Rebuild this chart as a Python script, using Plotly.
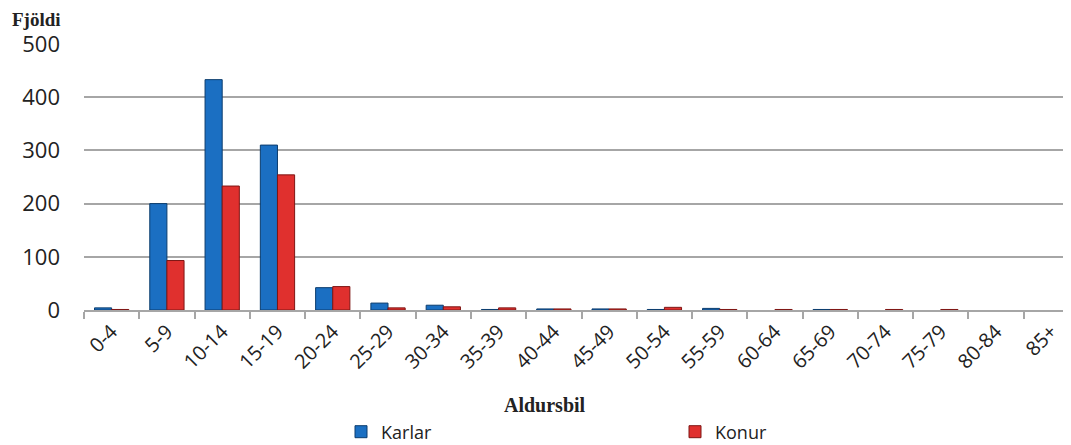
import plotly.graph_objects as go

categories = ["0-4", "5-9", "10-14", "15-19", "20-24", "25-29", "30-34", "35-39", "40-44",
              "45-49", "50-54", "55-59", "60-64", "65-69", "70-74", "75-79", "80-84", "85+"]
karlar = [4, 200, 433, 310, 42, 13, 9, 1, 2, 2, 1, 3, 0, 1, 0, 0, 0, 0]
konur = [1, 93, 233, 254, 44, 4, 6, 4, 2, 2, 5, 1, 1, 1, 1, 1, 0, 0]
y_ticks = [0, 100, 200, 300, 400, 500]

# page body adds an 8px offset; layout is expressed in screen pixels
OFF = 8
W, H = 1071, 445
L, T = 84 - OFF, 44 - OFF
B = H - (310 - OFF)
R = 0
pw = W - L - R
ph = H - T - B

def px(sx):
    return (sx - OFF - L) / pw

def py(sy):
    return (H - B - (sy - OFF)) / ph

fig = go.Figure()
fig.add_trace(go.Bar(name="Karlar", x=categories, y=karlar,
                     marker=dict(color="#1B6FC2",
                                 line=dict(color="#0C3D6E", width=[1 if v else 0 for v in karlar]))))
fig.add_trace(go.Bar(name="Konur", x=categories, y=konur,
                     marker=dict(color="#E0302E",
                                 line=dict(color="#7E1614", width=[1 if v else 0 for v in konur]))))

fig.update_layout(
    width=W, height=H,
    margin=dict(l=L, r=R, t=T, b=B, autoexpand=False),
    plot_bgcolor="white", paper_bgcolor="white",
    barmode="group", bargap=0.38, bargroupgap=0,
    font=dict(family="Open Sans, sans-serif", color="#222222"),
    showlegend=True,
    legend=dict(orientation="h", x=px(341), y=py(432), xanchor="left", yanchor="middle",
                entrywidth=289, font=dict(size=18, color="#222222"), itemwidth=30),
    xaxis=dict(type="category", range=[-0.5, 17.5], tickson="boundaries",
               ticks="outside", ticklen=7, tickcolor="#A6A6A6", tickwidth=2,
               showline=True, linecolor="#A6A6A6", linewidth=2, automargin=False,
               tickangle=-45, tickfont=dict(size=20, color="#222222"), showgrid=False),
    yaxis=dict(range=[0, 500], tickvals=y_ticks, showgrid=True, gridcolor="#A6A6A6", gridwidth=1.5,
               zeroline=False, showline=False, tickfont=dict(size=22, color="#222222"),
               ticklabelstandoff=23, automargin=False),
    annotations=[
        dict(text="<b>Fjöldi</b>", x=px(36), y=py(19), xref="paper", yref="paper",
             xanchor="center", yanchor="middle",
             showarrow=False, font=dict(family="Liberation Serif", size=19, color="#222222")),
        dict(text="<b>Aldursbil</b>", x=px(545), y=py(405), xref="paper", yref="paper",
             xanchor="center", yanchor="middle",
             showarrow=False, font=dict(family="Liberation Serif", size=20, color="#222222")),
    ],
)

fig.write_html("out.html")
